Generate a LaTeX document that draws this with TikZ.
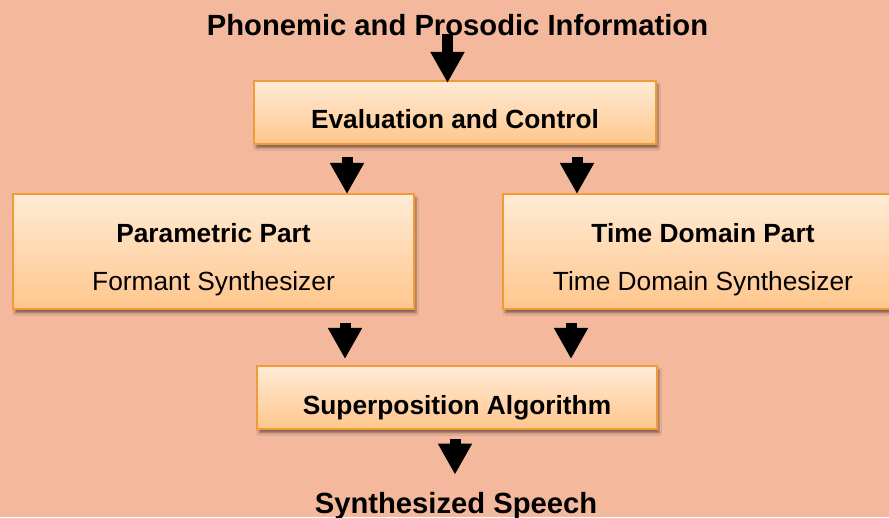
\documentclass[tikz,border=0pt]{standalone}
\usepackage{fontspec}
\setmainfont{Liberation Sans}
\usetikzlibrary{arrows.meta,shadows.blur}

\definecolor{bgsalmon}{HTML}{F4B89C}
\definecolor{boxtop}{HTML}{FFEBD6}
\definecolor{boxbot}{HTML}{FFC68C}
\definecolor{boxline}{HTML}{F09A38}

\tikzset{
  partbox/.style={draw=boxline, line width=2pt, top color=boxtop, bottom color=boxbot,
    blur shadow={shadow xshift=2pt, shadow yshift=-4pt, shadow blur steps=6, shadow opacity=45}},
  endtext/.style={font=\fontsize{29.2}{34}\selectfont\bfseries, inner sep=0pt, anchor=base},
  boldtext/.style={font=\fontsize{26.3}{31}\selectfont\bfseries, inner sep=0pt, anchor=base},
  plaintext/.style={font=\fontsize{26.3}{31}\selectfont, inner sep=0pt, anchor=base},
  blockarrow/.style={line width=11pt, -{Triangle[length=31pt,width=32pt]}}
}

\begin{document}
\begin{tikzpicture}[x=1pt, y=1pt]
  %% background
  \fill[bgsalmon] (0,0) rectangle (889,517);
  \useasboundingbox (0,0) rectangle (889,517);

  %% boxes
  \node[partbox, minimum width=402pt, minimum height=63pt] (eval) at (455,404.5) {};
  \node[partbox, minimum width=401pt, minimum height=115pt] (par) at (213.5,265.5) {};
  \node[partbox, minimum width=400pt, minimum height=115pt] (time) at (703,265.5) {};
  \node[partbox, minimum width=400pt, minimum height=63pt] (sup) at (457,119.5) {};

  %% texts
  \node[endtext] (phon) at (457.5,481) {Phonemic and Prosodic Information};
  \node[boldtext] (evaltxt) at (455,388) {Evaluation and Control};
  \node[boldtext] (partxt) at (213.5,274) {Parametric Part};
  \node[plaintext] (parsub) at (213.5,226) {Formant Synthesizer};
  \node[boldtext] (timetxt) at (703,274) {Time Domain Part};
  \node[plaintext] (timesub) at (703,226) {Time Domain Synthesizer};
  \node[boldtext] (suptxt) at (457,102) {Superposition Algorithm};
  \node[endtext] (synth) at (456,4) {Synthesized Speech};

  %% arrows
  \draw[blockarrow, shorten <=-2pt, shorten >=-3pt]
    ([xshift=-10pt]phon.south) -- ([xshift=-7.5pt]eval.north);
  \draw[blockarrow, shorten <=12pt, shorten >=-1pt]
    ([xshift=-108pt]eval.south) -- ([xshift=-108pt]eval.south |- par.north);
  \draw[blockarrow, shorten <=12pt, shorten >=-1pt]
    ([xshift=122pt]eval.south) -- ([xshift=122pt]eval.south |- time.north);
  \draw[blockarrow, shorten <=13pt, shorten >=6pt]
    ([xshift=131.5pt]par.south) -- ([xshift=131.5pt]par.south |- sup.north);
  \draw[blockarrow, shorten <=13pt, shorten >=6pt]
    ([xshift=-132pt]time.south) -- ([xshift=-132pt]time.south |- sup.north);
  \draw[blockarrow, shorten <=9pt, shorten >=17pt]
    ([xshift=-2pt]sup.south) -- ([xshift=-1pt]synth.north);

\end{tikzpicture}
\end{document}
